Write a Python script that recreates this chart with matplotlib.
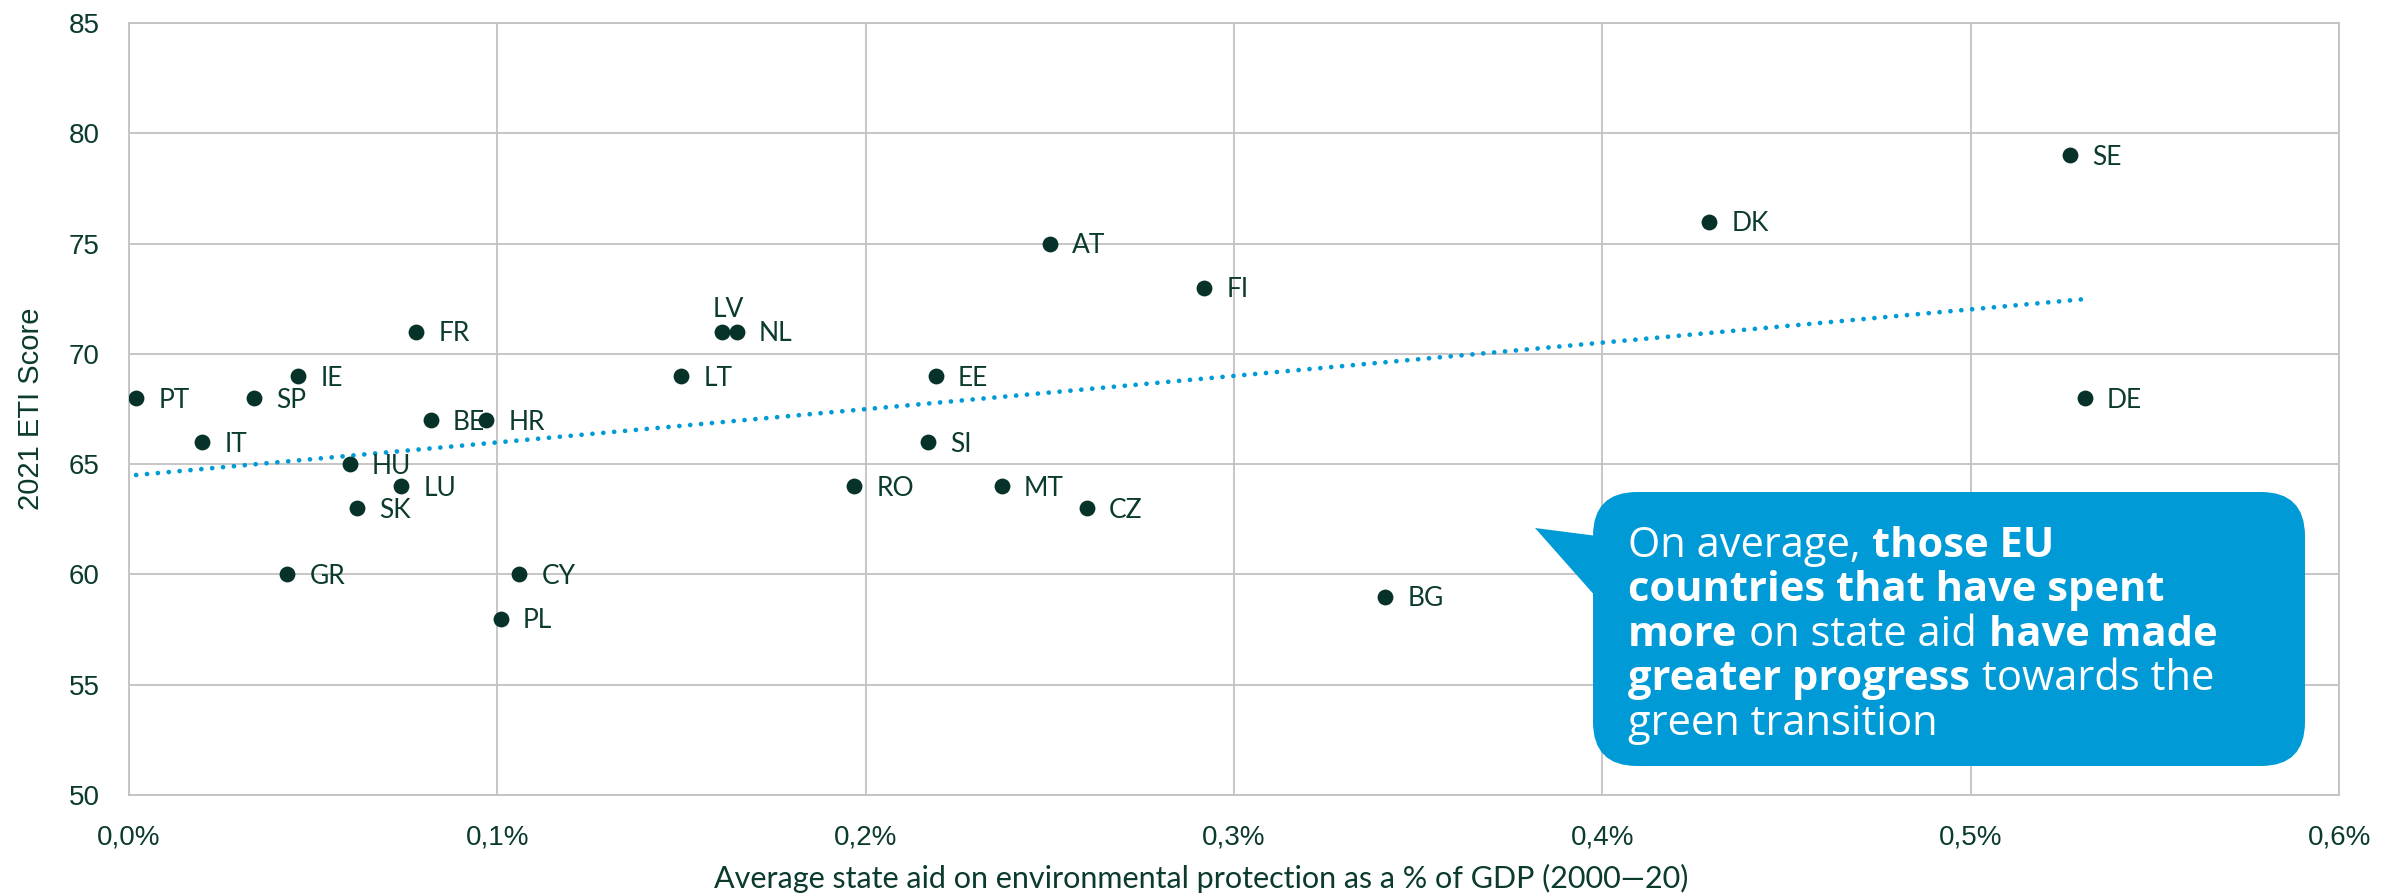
import numpy as np
import matplotlib
matplotlib.use("Agg")
import matplotlib.pyplot as plt
from matplotlib.patches import FancyBboxPatch, Polygon
from matplotlib.offsetbox import TextArea, HPacker, VPacker, AnnotationBbox

# state aid on environmental protection (% of GDP, avg 2000-20) vs 2021 ETI score
countries = ["PT", "IT", "SP", "GR", "IE", "HU", "SK", "LU", "FR", "BE", "HR", "PL", "CY",
             "LT", "LV", "NL", "RO", "SI", "EE", "MT", "AT", "CZ", "FI", "BG", "DK", "SE", "DE"]
state_aid = [0.002, 0.020, 0.034, 0.043, 0.046, 0.060, 0.062, 0.074, 0.078, 0.082, 0.097, 0.101, 0.106,
             0.150, 0.161, 0.165, 0.197, 0.217, 0.219, 0.237, 0.250, 0.260, 0.292, 0.341, 0.429, 0.527, 0.531]
eti_score = [68, 66, 68, 60, 69, 65, 63, 64, 71, 67, 67, 58, 60,
             69, 71, 71, 64, 66, 69, 64, 75, 63, 73, 59, 76, 79, 68]

xticks = [0.0, 0.1, 0.2, 0.3, 0.4, 0.5, 0.6]
xtick_labels = ["0,0%", "0,1%", "0,2%", "0,3%", "0,4%", "0,5%", "0,6%"]
yticks = [50, 55, 60, 65, 70, 75, 80, 85]

dark = "#0b3a2e"
blue = "#009ad6"
grid = "#c2c2c2"

fig = plt.figure(figsize=(24.02, 8.96), dpi=100)
ax = fig.add_axes([0.0536, 0.1127, 0.9202, 0.8616])

x = np.array(state_aid)
y = np.array(eti_score)

ax.scatter(x, y, s=130, color="#06322a", zorder=4, linewidths=0)

# linear trend over the data range
slope, intercept = np.polyfit(x, y, 1)
xs = np.array([x.min(), x.max()])
ax.plot(xs, slope * xs + intercept, color=blue, lw=3.4,
        linestyle=(0, (0.01, 2.3)), dash_capstyle="round", zorder=3)

for name, xv, yv in zip(countries, x, y):
    if name == "LV":
        ax.annotate(name, (xv, yv), xytext=(5, 16), textcoords="offset points",
                    ha="center", va="center", fontsize=19, color=dark, family="Lato", zorder=5)
    else:
        ax.annotate(name, (xv, yv), xytext=(16, -1.5), textcoords="offset points",
                    ha="left", va="center", fontsize=19, color=dark, family="Lato", zorder=5)

ax.set_xlim(0, 0.6)
ax.set_ylim(50, 85)
ax.set_xticks(xticks)
ax.set_xticklabels(xtick_labels)
ax.set_yticks(yticks)
ax.grid(True, color=grid, lw=1.3)
ax.set_axisbelow(True)
for s in ax.spines.values():
    s.set_color(grid)
    s.set_linewidth(1.3)
ax.tick_params(length=0, labelsize=20, labelcolor=dark, pad=21)
for lab in ax.get_xticklabels() + ax.get_yticklabels():
    lab.set_family("Liberation Sans")

ax.set_ylabel("2021 ETI Score", fontsize=21, color=dark, family="Liberation Sans", labelpad=17)
ax.set_xlabel("Average state aid on environmental protection as a % of GDP (2000\u201420)",
              fontsize=22, color=dark, family="Lato")
ax.xaxis.set_label_coords(0.485, -0.089)

# callout bubble (figure inches, origin bottom-left)
H = 8.96
box = FancyBboxPatch((15.93, H - 7.66), 7.12, 2.74,
                     boxstyle="round,pad=0,rounding_size=0.44",
                     transform=fig.dpi_scale_trans, facecolor=blue, edgecolor="none", zorder=10)
fig.add_artist(box)
tail = Polygon([(15.35, H - 5.28), (16.05, H - 5.37), (16.05, H - 6.07)],
               closed=True, transform=fig.dpi_scale_trans, facecolor=blue, edgecolor="none", zorder=10)
fig.add_artist(tail)

lines = [
    [("On average,", "normal"), ("those EU", "bold")],
    [("countries that have spent", "bold")],
    [("more", "bold"), ("on state aid", "normal"), ("have made", "bold")],
    [("greater progress", "bold"), ("towards the", "normal")],
    [("green transition", "normal")],
]
rows = []
for segs in lines:
    parts = [TextArea(t, textprops=dict(color="white", fontsize=30, family="Open Sans", weight=w))
             for t, w in segs]
    rows.append(HPacker(children=parts, align="baseline", pad=0, sep=8.5))
block = VPacker(children=rows, align="left", pad=0, sep=2)
ab = AnnotationBbox(block, (16.28, H - 5.25), xycoords=fig.dpi_scale_trans,
                    box_alignment=(0, 1), frameon=False, zorder=11)
fig.add_artist(ab)

fig.savefig("out.png", dpi=100)
